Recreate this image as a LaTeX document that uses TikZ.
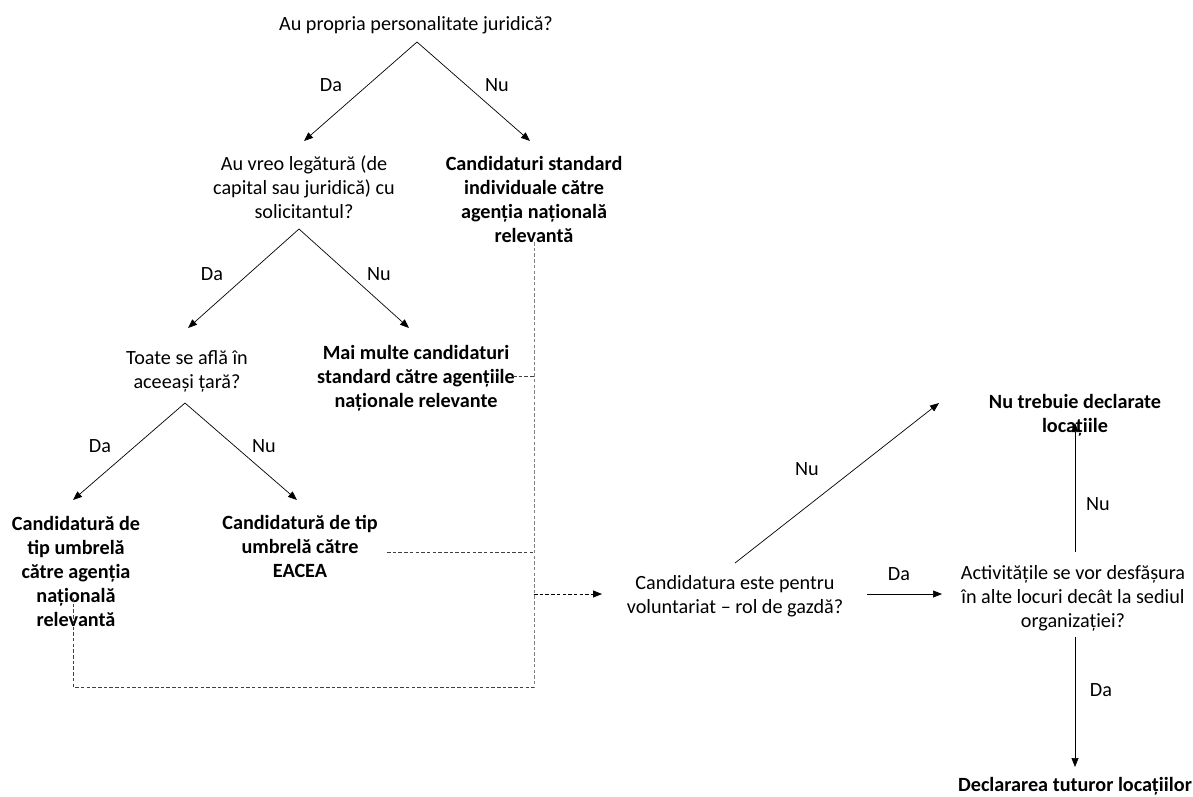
\documentclass[tikz,border=0pt]{standalone}
\usepackage{fontspec}
\setmainfont{Carlito}
\usetikzlibrary{arrows.meta}
\begin{document}
\begin{tikzpicture}[x=1pt,y=-1pt,
  txt/.style={inner sep=0pt,outer sep=0pt,align=center,yshift=-3pt,
    font=\fontsize{20.2}{24}\selectfont,
    execute at begin node=\strut, execute at end node=\strut},
  qbox/.style={txt},
  obox/.style={txt,font=\fontsize{20.2}{24}\selectfont\bfseries},
  lbl/.style={txt},
  arr/.style={line width=0.7pt,-{Triangle[length=9pt,width=7pt]}},
  dsh/.style={line width=0.9pt,dash pattern=on 3.5pt off 2.2pt,draw=black!75},
  darr/.style={line width=0.9pt,dash pattern=on 3.5pt off 2.2pt,-{Triangle[length=9pt,width=7pt]}}
]
\useasboundingbox (0,0) rectangle (1193,796);

% questions
\node[qbox] (q1) at (416,23) {Au propria personalitate juridică?};
\node[qbox] (q2) at (304,188) {Au vreo legătură (de\\capital sau juridică) cu\\solicitantul?};
\node[qbox] (q3) at (187,370) {Toate se află în\\aceeași țară?};
\node[qbox] (q4) at (735,595) {Candidatura este pentru\\voluntariat – rol de gazdă?};
\node[qbox] (q5) at (1073,597) {Activitățile se vor desfășura\\în alte locuri decât la sediul\\organizației?};

% outcomes
\node[obox] (std) at (534,200) {Candidaturi standard\\individuale către\\agenția națională\\relevantă};
\node[obox] (multi) at (416,377) {Mai multe candidaturi\\standard către agențiile\\naționale relevante};
\node[obox] (umbN) at (76,572) {Candidatură de\\tip umbrelă\\către agenția\\națională\\relevantă};
\node[obox] (umbE) at (300,547) {Candidatură de tip\\umbrelă către\\EACEA};
\node[obox] (nodecl) at (1075,414) {Nu trebuie declarate\\locațiile};
\node[obox,yshift=2pt,execute at end node={}] (decl) at (1075,786) {Declararea tuturor locațiilor};

% branch points and arrow tips
\coordinate (v1) at (417,42);
\coordinate (t1a) at (304,141);
\coordinate (t1b) at (530,141);
\coordinate (v2) at (299,229);
\coordinate (t2a) at (188,328);
\coordinate (t2b) at (409,328);
\coordinate (v3) at (185,403);
\coordinate (t3a) at (73,500);
\coordinate (t3b) at (297,500);
\coordinate (v4) at (735,563);
\coordinate (t4) at (939,403);
\coordinate (s4) at (867,594);
\coordinate (t5) at (942,594);
\coordinate (s5a) at (1075,552);
\coordinate (t5a) at (1075,423);
\coordinate (s5b) at (1075,637);
\coordinate (t5b) at (1075,767);

\draw[arr] (v1) -- (t1a);
\draw[arr] (v1) -- (t1b);
\draw[arr] (v2) -- (t2a);
\draw[arr] (v2) -- (t2b);
\draw[arr] (v3) -- (t3a);
\draw[arr] (v3) -- (t3b);
\draw[arr] (v4) -- (t4);
\draw[arr] (s4) -- (t5);
\draw[arr] (s5a) -- (t5a);
\draw[arr] (s5b) -- (t5b);

% labels
\node[lbl] (l1) at (331,84) {Da};
\node[lbl] (l2) at (497,84) {Nu};
\node[lbl] (l3) at (212,273) {Da};
\node[lbl] (l4) at (379,273) {Nu};
\node[lbl] (l5) at (100,445) {Da};
\node[lbl] (l6) at (264,445) {Nu};
\node[lbl] (l7) at (807,468) {Nu};
\node[lbl] (l8) at (899,573) {Da};
\node[lbl] (l9) at (1098,503) {Nu};
\node[lbl] (l10) at (1101,689) {Da};

% dashed collector
\coordinate (bus) at (534,594);
\coordinate (busTop) at (534,242);
\coordinate (busBot) at (534,687);
\coordinate (cornL) at (73,687);
\coordinate (umbNstart) at (73,598);
\coordinate (multiEnd) at (513,376);
\coordinate (umbEend) at (387,552);
\coordinate (busM) at (534,376);
\coordinate (busE) at (534,552);
\coordinate (q4in) at (602,594);

\draw[dsh,draw=black!50] (busTop) -- (busBot);
\draw[dsh] (umbNstart) -- (cornL) -- (busBot);
\draw[dsh] (multiEnd) -- (busM);
\draw[dsh] (umbEend) -- (busE);
\draw[darr] (bus) -- (q4in);
\end{tikzpicture}
\end{document}
